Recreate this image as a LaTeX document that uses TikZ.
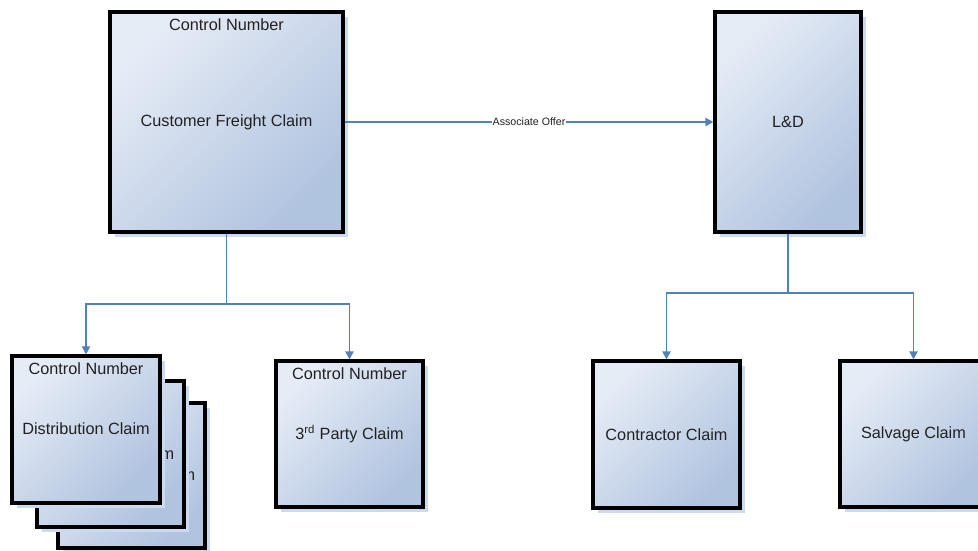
\documentclass[tikz,border=0pt]{standalone}
\usepackage{fontspec}
\setmainfont{Liberation Sans}
\usepackage{tikz}
\usetikzlibrary{shapes, arrows.meta, shadows, positioning}
\definecolor{boxlight}{HTML}{E6ECF6}
\definecolor{boxdark}{HTML}{B0C3DF}
\definecolor{shd}{HTML}{CCD9EE}
\definecolor{connblue}{HTML}{4F81BD}
\definecolor{txt}{HTML}{222222}
\tikzstyle{claim} = [rectangle, draw=black, line width=2.3pt, top color=boxlight, bottom color=boxdark, shading angle=45,
  drop shadow={shadow xshift=3.8pt, shadow yshift=-3.8pt, fill=shd, opacity=1},
  text=txt, font=\fontsize{12.2}{14}\selectfont, align=center, inner sep=0pt]
\tikzstyle{cnum} = [label={[anchor=north, text=txt, font=\fontsize{12.2}{14}\selectfont, yshift=-3pt]north:Control Number}]
\tikzstyle{conn} = [draw=connblue, line width=1.4pt]
\tikzstyle{arr} = [conn, -{Triangle[length=6pt, width=6pt]}]

\begin{document}
\begin{tikzpicture}[x=0.75pt, y=-0.75pt]
				\useasboundingbox (0,0) rectangle (978,550);

				\node [claim, cnum, minimum width=174.75pt, minimum height=165pt] (cfc) at (226.5,122) {Customer Freight Claim};
				\node [claim, minimum width=109.5pt, minimum height=165pt] (ld) at (788,122) {L\&D};

				% stacked distribution claims, back to front
				\node [claim, minimum width=110.25pt, minimum height=108.75pt] (dist3) at (131.5,475.5) {\raisebox{2pt}{Distribution Claim}};
				\node [claim, minimum width=110.25pt, minimum height=109.5pt] (dist2) at (110.5,454) {\raisebox{1pt}{Distribution Claim}};
				\node [claim, cnum, minimum width=111pt, minimum height=110.25pt] (dist) at (86,429.5) {\raisebox{2pt}{Distribution Claim}};

				\node [claim, cnum, minimum width=110.25pt, minimum height=109.5pt] (third) at (349.5,434) {\raisebox{2pt}{3\textsuperscript{rd} Party Claim}};
				\node [claim, minimum width=110.25pt, minimum height=110.25pt] (contr) at (666.5,434.5) {Contractor Claim};
				\node [claim, minimum width=110.25pt, minimum height=109.5pt] (salv) at (913.5,434) {\raisebox{2pt}{Salvage Claim}};

				\coordinate (cfcbus) at (226.5,304);
				\coordinate (ldbus) at (788,293);

				\path [arr] (cfc) -- node [fill=white, inner sep=0.5pt, text=txt, font=\fontsize{8}{9}\selectfont] {Associate Offer} (ld);
				\path [conn] (cfc) -- (cfcbus);
				\path [arr] (cfcbus) -| (dist.north);
				\path [arr] (cfcbus) -| (third.north);
				\path [conn] (ld) -- (ldbus);
				\path [arr] (ldbus) -| (contr.north);
				\path [arr] (ldbus) -| (salv.north);
			\end{tikzpicture}
\end{document}
